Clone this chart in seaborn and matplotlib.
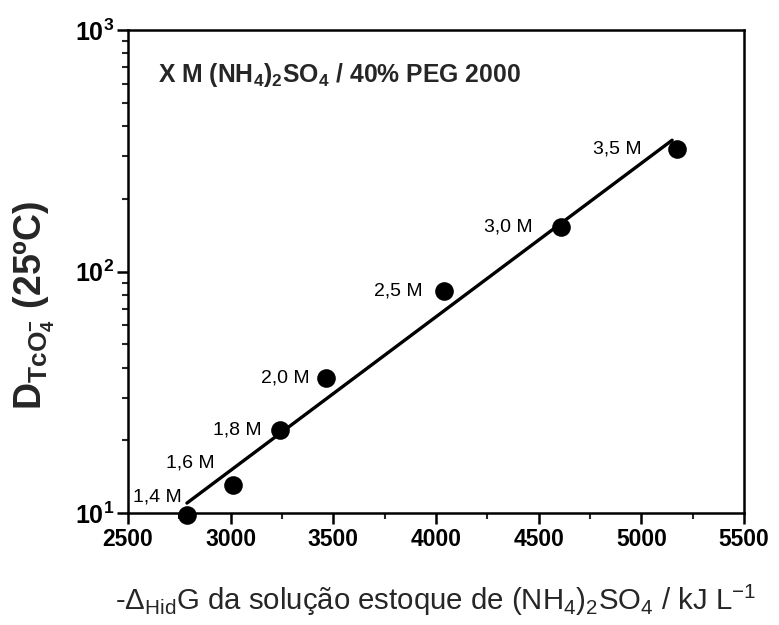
import numpy as np
import pandas as pd
import matplotlib
matplotlib.use("Agg")
import matplotlib.pyplot as plt
import seaborn as sns
from matplotlib.ticker import MultipleLocator, LogLocator, FixedLocator, FuncFormatter, NullFormatter

# ---- data ----
delta_g = [2787, 3011, 3240, 3464, 4039, 4609, 5174]          # -ΔHidG / kJ L^-1
d_tco4 = [9.8, 13.1, 22.1, 36.2, 83.0, 152.8, 321.0]          # D TcO4- (25 ºC)
conc_labels = ["1,4 M", "1,6 M", "1,8 M", "2,0 M", "2,5 M", "3,0 M", "3,5 M"]
x_ticks = [2500, 3000, 3500, 4000, 4500, 5000, 5500]
y_ticks = [10, 100, 1000]

# label offsets (pixels) of the right edge of each label relative to its point
label_offsets = [(-5, 18), (-18, 22), (-18, 0), (-16, 0), (-21, 0), (-28, 0), (-35, 0)]

sns.set_theme(style="ticks")
plt.rcParams["font.family"] = ["Liberation Sans", "DejaVu Sans"]
plt.rcParams["mathtext.fontset"] = "custom"
plt.rcParams["mathtext.rm"] = "Liberation Sans"
plt.rcParams["mathtext.bf"] = "Liberation Sans:bold"
plt.rcParams["mathtext.it"] = "Liberation Sans:italic"
plt.rcParams["mathtext.default"] = "regular"

df = pd.DataFrame({"dg": delta_g, "d": d_tco4, "lab": conc_labels})

# linear fit in log space
coef = np.polyfit(df["dg"], np.log10(df["d"]), 1)
xs = np.linspace(min(delta_g), 5150, 50)
fit = pd.DataFrame({"dg": xs, "d": 10 ** np.polyval(coef, xs)})

fig = plt.figure(figsize=(7.79, 6.25), dpi=100)
ax = fig.add_axes([128 / 779, 1 - 513 / 625, 616 / 779, 483 / 625])

sns.lineplot(data=fit, x="dg", y="d", ax=ax, color="black", linewidth=2.4)
sns.scatterplot(data=df, x="dg", y="d", ax=ax, color="black", s=180,
                edgecolor="black", linewidth=0, zorder=3, clip_on=False)

ax.set_yscale("log")
ax.set_xlim(2500, 5500)
ax.set_ylim(10, 1000)

ax.xaxis.set_major_locator(FixedLocator(x_ticks))
ax.xaxis.set_minor_locator(MultipleLocator(250))
ax.yaxis.set_major_locator(FixedLocator(y_ticks))
ax.yaxis.set_minor_locator(LogLocator(base=10, subs=np.arange(2, 10)))
ax.yaxis.set_minor_formatter(NullFormatter())
ax.yaxis.set_major_formatter(FuncFormatter(lambda v, p: r"$\mathbf{10^{%d}}$" % round(np.log10(v))))
ax.set_xticklabels([str(t) for t in x_ticks], fontweight="bold")

ax.tick_params(which="major", direction="out", length=8, width=1.8, labelsize=16.5,
               colors="black", top=False, right=False, pad=3)
ax.tick_params(which="minor", direction="out", length=4.5, width=1.5,
               top=False, right=False)
ax.tick_params(axis="y", which="major", labelsize=18, pad=2)

for s in ax.spines.values():
    s.set_linewidth(1.8)
    s.set_color("black")
    s.set_visible(True)

for x, y, lab, (dx, dy) in zip(df["dg"], df["d"], df["lab"], label_offsets):
    ax.annotate(lab, (x, y), xytext=(dx, dy), textcoords="offset pixels",
                ha="right", va="center", fontsize=14, color="black",
                annotation_clip=False)

ax.text(0.049, 0.907, r"X M (NH$_{\mathbf{4}}$)$_{\mathbf{2}}$SO$_{\mathbf{4}}$ / 40% PEG 2000",
        transform=ax.transAxes, ha="left", va="center", fontsize=17.8, fontweight="bold")

ax.set_xlabel(r"-$\Delta_{\mathregular{Hid}}$G da solução estoque de (NH$_4$)$_2$SO$_4$ / kJ L$^{-1}$",
              fontsize=21.2)
ax.xaxis.set_label_coords(0.5, -0.18)
ax.xaxis.label.set_va("center")

ax.set_ylabel(r"D$_{\mathbf{TcO}_{\mathbf{4}}^{\mathbf{-}}}$ (25ºC)", fontsize=27, fontweight="bold")
ax.yaxis.set_label_coords(-0.153, 0.429)
ax.yaxis.label.set_va("center")

fig.savefig("out.png", dpi=100)
